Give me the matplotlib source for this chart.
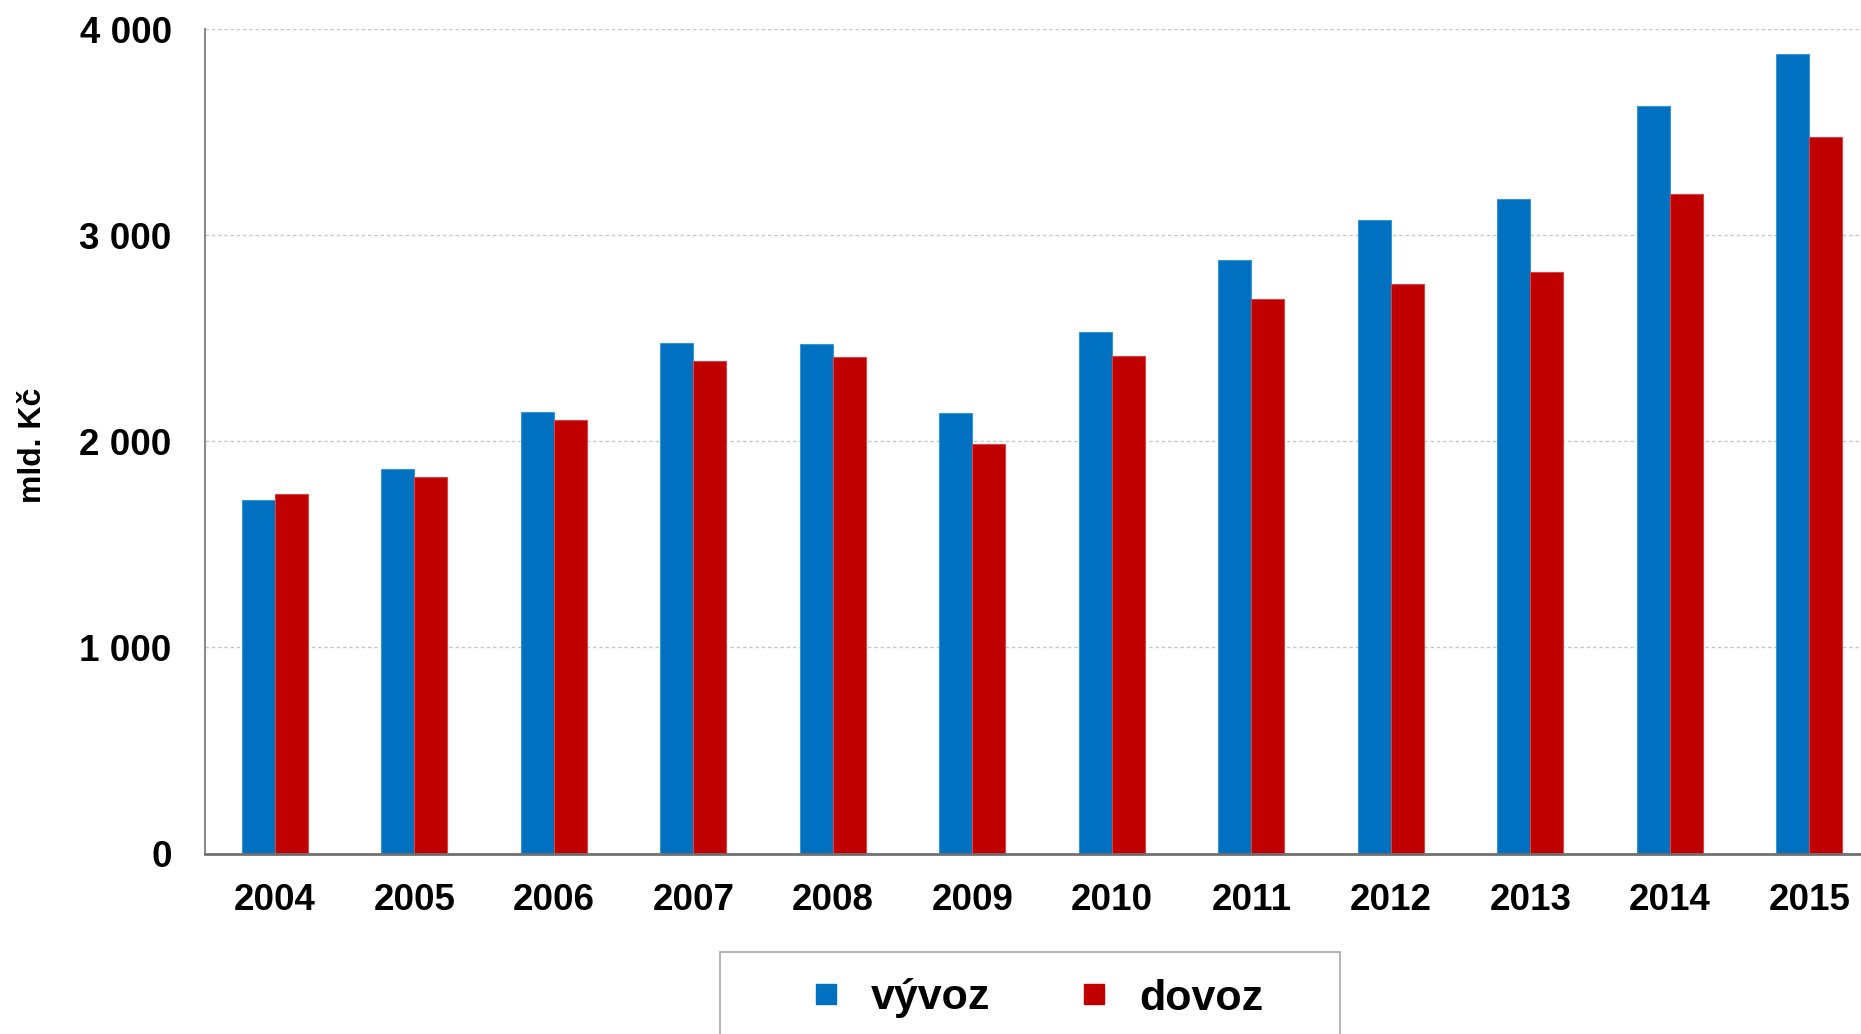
import matplotlib
matplotlib.use("Agg")
import matplotlib.pyplot as plt
from matplotlib.lines import Line2D
from matplotlib.patches import Rectangle
import numpy as np

years = ["2004", "2005", "2006", "2007", "2008", "2009", "2010", "2011", "2012", "2013", "2014", "2015"]
vyvoz = [1718, 1868, 2144, 2478, 2473, 2138, 2530, 2882, 3073, 3174, 3629, 3882]
dovoz = [1746, 1827, 2104, 2392, 2409, 1988, 2415, 2692, 2766, 2822, 3199, 3477]
yticks = [0, 1000, 2000, 3000, 4000]
ytick_labels = ["0", "1 000", "2 000", "3 000", "4 000"]
series_names = ["vývoz", "dovoz"]

BLUE = "#0070C0"
RED = "#C00000"

plt.rcParams['font.family'] = ['Liberation Sans', 'DejaVu Sans']
plt.rcParams['font.weight'] = 'bold'

W, H = 1861, 1034
fig = plt.figure(figsize=(W / 100, H / 100), dpi=100)
ax = fig.add_axes([205 / W, 1 - 853.5 / H, 1 - 205 / W, (853.5 - 29.3) / H])

x = np.arange(len(years))
bw = 0.236
ax.bar(x - bw / 2, vyvoz, width=bw, color=BLUE, edgecolor="#3A95D6", linewidth=0.8, zorder=3)
ax.bar(x + bw / 2, dovoz, width=bw, color=RED, edgecolor="#D54545", linewidth=0.8, zorder=3)

ax.set_xlim(-0.5, 11.37)
ax.set_ylim(0, 4000)
ax.set_yticks(yticks)
ax.set_yticklabels(ytick_labels)
ax.set_xticks(x)
ax.set_xticklabels(years)

ax.tick_params(axis='y', length=0, pad=24, labelsize=26.5)
ax.tick_params(axis='x', length=0, pad=21, labelsize=26.5)
for lbl in ax.get_xticklabels() + ax.get_yticklabels():
    lbl.set_fontweight('bold')

ax.yaxis.grid(True, linestyle=(0, (2.5, 2)), color="#C8C8C8", linewidth=1.0, zorder=0)
ax.set_axisbelow(True)

for s in ["top", "right"]:
    ax.spines[s].set_visible(False)
ax.spines["left"].set_color("#8C8C8C")
ax.spines["left"].set_linewidth(1.5)
ax.spines["bottom"].set_color("#707070")
ax.spines["bottom"].set_linewidth(2)
ax.spines["bottom"].set_zorder(4)

ax.set_ylabel("mld. Kč", fontsize=23, fontweight='bold', va='center')
ax.yaxis.set_label_coords((33 - 205) / (W - 205), 0.495)

handles = [
    Line2D([], [], marker='s', linestyle='none', markersize=15, markerfacecolor=BLUE, markeredgecolor=BLUE),
    Line2D([], [], marker='s', linestyle='none', markersize=15, markerfacecolor=RED, markeredgecolor=RED),
]
fs = 31
fig.legend(handles, series_names, loc='center left', bbox_to_anchor=(793.5 / W, 1 - 998.5 / H),
           ncol=2, frameon=False, borderpad=0, handlelength=0.5, handletextpad=0.8,
           columnspacing=2.15, prop={'family': ['Liberation Sans', 'DejaVu Sans'], 'weight': 'bold', 'size': fs})

frame = Rectangle((720 / W, -0.05), (1340 - 720) / W, 0.05 + (1034 - 952) / H,
                  transform=fig.transFigure, fill=False, edgecolor="#A6A6A6", linewidth=1.2, clip_on=False)
fig.patches.append(frame)

fig.savefig("out.png", dpi=100)
